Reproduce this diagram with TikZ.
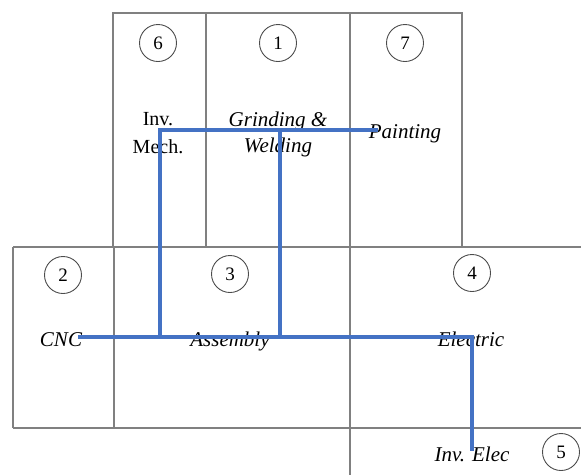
\documentclass[tikz,border=0pt]{standalone}
\usepackage{fontspec}
\setmainfont{Liberation Serif}
\begin{document}
\begin{tikzpicture}[x=1pt,y=-1pt,
  wall/.style={draw=black!50,line width=1.1pt},
  deptno/.style={circle,draw=black!70,line width=0.9pt,minimum size=37pt,inner sep=0pt,
    font=\fontsize{19}{19}\selectfont},
  dept/.style={anchor=base,inner sep=0pt,align=center,
    font=\fontsize{21}{26}\selectfont\itshape},
  deptup/.style={anchor=base,inner sep=0pt,align=center,
    font=\fontsize{20}{28}\selectfont},
  flow/.style={draw={rgb,255:red,68;green,114;blue,196},line width=4.6pt,line join=miter}]
\useasboundingbox (0,0) rectangle (581,475);

% building walls: upper wing
\draw[wall] (113,13) rectangle (462,247);
\draw[wall] (206,13) -- (206,247);
\draw[wall] (350,13) -- (350,247);
% lower wing
\draw[wall] (13,247) -- (581,247);
\draw[wall] (13,428) -- (581,428);
\draw[wall] (13,247) -- (13,428);
\draw[wall] (114,247) -- (114,428);
\draw[wall] (350,247) -- (350,475);

% department numbers
\node[deptno] (n6) at (158,43) {6};
\node[deptno] (n1) at (278,43) {1};
\node[deptno] (n7) at (405,43) {7};
\node[deptno] (n2) at (63,275) {2};
\node[deptno] (n3) at (230,274) {3};
\node[deptno] (n4) at (472,273) {4};
\node[deptno] (n5) at (561,452) {5};

% department names (base anchor sits on the last line)
\node[deptup] (mech) at (158,153) {Inv.\\Mech.};
\node[dept] (weld) at (278,152) {Grinding \&\\Welding};
\node[dept] (paint) at (405,138) {Painting};
\node[dept] (cnc) at (61,346) {CNC};
\node[dept] (asm) at (230,346) {Assembly};
\node[dept] (elec) at (471,346) {Electric};
\node[dept] (invelec) at (472,461) {Inv. Elec};

% material flow route
\coordinate (pA) at (160,130);
\coordinate (pB) at (280,130);
\coordinate (pC) at (378,130);
\coordinate (qS) at (78,337);
\coordinate (qA) at (160,337);
\coordinate (qB) at (280,337);
\coordinate (qE) at (472,337);
\coordinate (qF) at (472,451);
\draw[flow] (qA) -- (pA) -- (pC);
\draw[flow] (pB) -- (qB);
\draw[flow] (qS) -- (qE) -- (qF);
\end{tikzpicture}
\end{document}
